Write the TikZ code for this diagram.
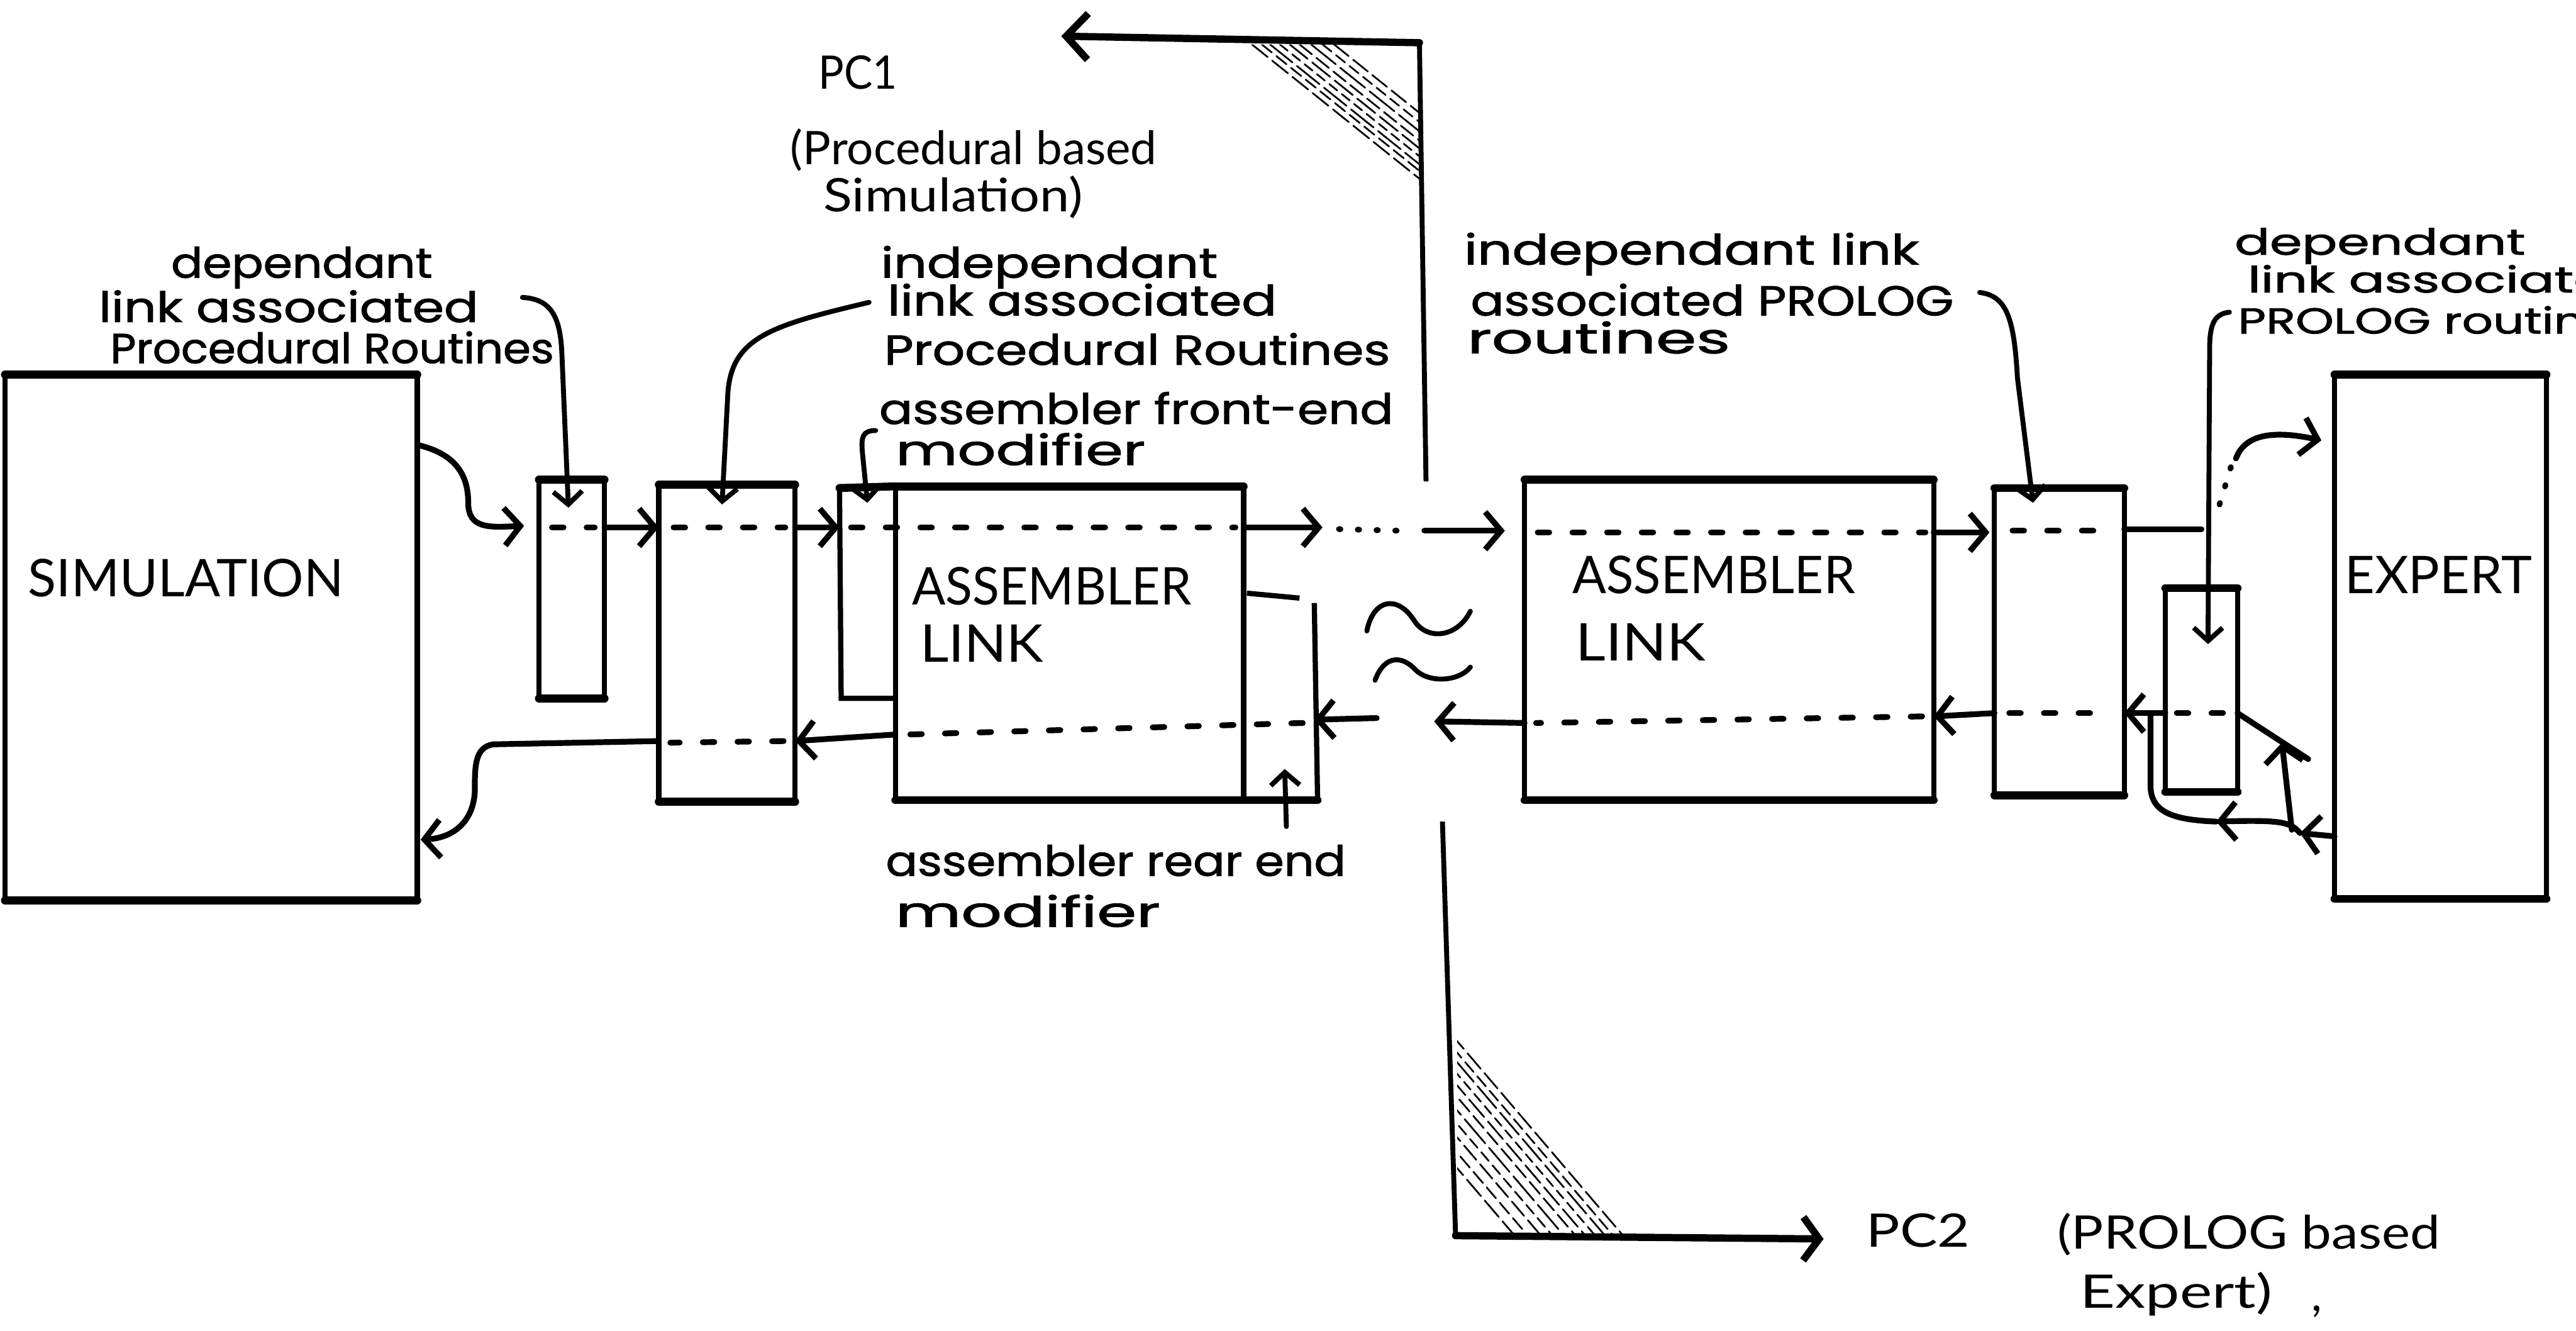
\documentclass[tikz,border=0pt]{standalone}
\usepackage{fontspec}
\usepackage{graphicx}
\setmainfont{Lato}
\newfontfamily\handfont{Poppins}[FakeBold=1.4]
\usetikzlibrary{arrows.meta,calc}
\newlength\hu
\setlength\hu{0.04cm}
\newcommand\fitw[2]{\resizebox{#1\hu}{\height}{#2}}
\newcommand\mkbox[5]{\node[box,minimum width={(#4-#2)*0.04cm},minimum height={(#5-#3)*0.04cm}] (#1) at ({(#2+#4)/2},{(#3+#5)/2}) {};}
\begin{document}
\begin{tikzpicture}[x=0.04cm,y=-0.04cm,
  box/.style={draw,line width=3.6pt,inner sep=0pt,outer sep=0pt},
  edge/.style={line width=5.5pt,line cap=round},
  flow/.style={line width=4pt,line cap=round},
  dflow/.style={line width=4pt,line cap=round,dash pattern=on 8pt off 16pt},
  dots/.style={line width=4pt,line cap=round,dash pattern=on 1pt off 12pt},
  arr/.style={-{Straight Barb[length=11pt,width=26pt]}},
  lead/.style={line width=3.4pt,line cap=round},
  larr/.style={-{Straight Barb[length=9pt,width=20pt]}},
  typed/.style={inner sep=0pt,anchor=base west,font=\fontsize{36}{40}\selectfont},
  typsm/.style={inner sep=0pt,anchor=base west,font=\fontsize{32}{36}\selectfont},
  hw/.style={inner sep=0pt,anchor=base west,font=\handfont\fontsize{29}{34}\selectfont},
  hwsm/.style={inner sep=0pt,anchor=base west,font=\handfont\fontsize{25}{30}\selectfont},
  hatch/.style={line width=1.2pt,line cap=round},
  tilde/.style={line width=3.4pt,line cap=round}
]
\useasboundingbox (0,0) rectangle (1568,810);

% ---------- boxes ----------
\mkbox{sim}{3}{228}{254}{548}
\mkbox{bA}{328}{292}{368}{425}
\mkbox{bB}{401}{295}{484}{488}
\mkbox{alA}{545}{296}{757}{487}
\mkbox{alB}{928}{292}{1177}{487}
\mkbox{bC}{1214}{297}{1293}{484}
\mkbox{bD}{1318}{358}{1362}{482}
\mkbox{exp}{1421}{228}{1550}{547}
\foreach \b in {sim,bA,bB,alA,alB,bC,bD,exp}{
  \draw[edge] (\b.north west) -- (\b.north east);
  \draw[edge] (\b.south west) -- (\b.south east);
}
% front-end modifier
\coordinate (fmTL) at (511,297);
\coordinate (fmBL) at (512,425);
\draw[line width=3.6pt] (fmTL) -- (fmBL) -- (alA.west |- fmBL);
\draw[edge] (fmTL) -- (alA.north west);
% rear-end modifier
\coordinate (rmT) at (800,367);
\coordinate (rmB) at (802,487);
\draw[line width=3.6pt] (759,361) -- (791,364);
\draw[line width=3.6pt] (rmT) -- (rmB);
\draw[edge] (alA.south east) -- (rmB);

% ---------- texts ----------
\node[typed] (tSim) at (17,363) {\fitw{192}{SIMULATION}};
\node[typed] (tAL1a) at (555,368) {\fitw{170}{ASSEMBLER}};
\node[typed] (tAL1b) at (560,403) {\fitw{75}{LINK}};
\node[typed] (tAL2a) at (957,361) {\fitw{172}{ASSEMBLER}};
\node[typed] (tAL2b) at (959,402) {\fitw{79}{LINK}};
\node[typed] (tExp) at (1427,361) {\fitw{114}{EXPERT}};
\node[typsm] (tPC1) at (498,54) {\fitw{48}{PC1}};
\node[typsm] (tPC1a) at (481,100) {\fitw{223}{(Procedural based}};
\node[typsm] (tPC1b) at (501,129) {\fitw{158}{Simulation)}};
\node[typsm] (tPC2) at (1136,759) {\fitw{63}{PC2}};
\node[typsm] (tPC2a) at (1252,760) {\fitw{233}{(PROLOG based}};
\node[typsm] (tPC2b) at (1266,796) {\fitw{117}{Expert)}};
\node[typsm] (tPC2c) at (1407,798) {,};

\node[hw] (h1a) at (104,169) {\fitw{159}{dependant}};
\node[hw] (h1b) at (60,196) {\fitw{231}{link associated}};
\node[hw] (h1c) at (67,221) {\fitw{270}{Procedural Routines}};
\node[hw] (h2a) at (536,169) {\fitw{205}{independant}};
\node[hw] (h2b) at (540,192) {\fitw{237}{link associated}};
\node[hw] (h2c) at (538,222) {\fitw{308}{Procedural Routines}};
\node[hw] (h3a) at (535,258) {\fitw{313}{assembler front-end}};
\node[hw] (h3b) at (545,283) {\fitw{152}{modifier}};
\node[hw] (h4a) at (891,161) {\fitw{277}{independant link}};
\node[hw] (h4b) at (895,192) {\fitw{294}{associated PROLOG}};
\node[hw] (h4c) at (893,215) {\fitw{160}{routines}};
\node[hwsm] (h5a) at (1360,155) {\fitw{177}{dependant}};
\node[hwsm] (h5b) at (1368,178) {\fitw{240}{link associated}};
\node[hwsm] (h5c) at (1362,203) {\fitw{245}{PROLOG routines}};
\node[hw] (h6a) at (539,533) {\fitw{280}{assembler rear end}};
\node[hw] (h6b) at (545,564) {\fitw{161}{modifier}};

% ---------- leaders ----------
\coordinate (lA) at (318,181);
\draw[lead,larr] (lA) .. controls (335,182) and (341,192) .. (342,215) -- ($(bA.north)+(-2,17)$);
\coordinate (lB) at (529,184);
\draw[lead,larr] (lB) .. controls (470,198) and (445,205) .. (443,240) -- ($(bB.north)+(-3,12)$);
\coordinate (lC) at (533,262);
\draw[lead,larr] (lC) .. controls (525,262) and (524,266) .. (525,276) -- ($(fmTL)+(17,9)$);
\coordinate (lD) at (1205,178);
\draw[lead,larr] (lD) .. controls (1222,180) and (1226,195) .. (1228,230) -- ($(bC.north)+(-16,9)$);
\coordinate (lE) at (1357,190);
\draw[lead,larr] (lE) .. controls (1348,191) and (1345,197) .. (1345,212) -- ($(bD.north)+(4,34)$);
\coordinate (lF) at (783,503);
\draw[lead,larr] (lF) -- ($(alA.south east)+(25,-19)$);

% ---------- top flow ----------
\coordinate (yT) at (0,321);
\coordinate (yT2) at (0,324);
\draw[flow,arr] ($(sim.north east)+(1,43)$) .. controls (280,277) and (285,292) .. (285,306) .. controls (285,322) and (298,321) .. ($(bA.west |- yT)+(-9,-1)$);
\draw[dflow] ($(bA.west |- yT)+(8,0)$) -- ($(bA.east |- yT)+(-6,0)$);
\draw[flow,arr] (bA.east |- yT) -- (bB.west |- yT);
\draw[dflow] ($(bB.west |- yT)+(9,0)$) -- ($(bB.east |- yT)+(-6,0)$);
\draw[flow,arr] (bB.east |- yT) -- (fmTL |- yT);
\draw[dflow] ($(fmTL |- yT)+(7,0)$) -- ($(alA.east |- yT)+(-5,0)$);
\coordinate (gapL) at (805,321);
\draw[flow,arr] (alA.east |- yT) -- (gapL);
\draw[dots] (815,322) -- (852,323);
\coordinate (gapR) at (867,323);
\draw[flow,arr] (gapR) -- ($(alB.west |- gapR)+(-12,0)$);
\draw[dflow] ($(alB.west |- yT2)+(8,0)$) -- ($(alB.east |- yT2)+(-5,0)$);
\draw[flow,arr] (alB.east |- yT2) -- ($(bC.west |- yT2)+(-3,0)$);
\draw[dflow] ($(bC.west |- yT2)+(11,-1)$) -- ($(bC.east |- yT2)+(-7,-1)$);
\coordinate (jR) at (1340,322);
\draw[flow] (bC.east |- jR) -- (jR);
\draw[dots] (1351,307) -- (1358,284);
\coordinate (eIn) at ($(exp.north west)+(-8,40)$);
\draw[flow,arr] (1361,279) .. controls (1366,266) and (1380,261) .. (eIn);

% ---------- bottom flow ----------
\coordinate (yB1) at (0,434);
\coordinate (yB2) at (0,436);
\coordinate (yB3) at (0,440);
\coordinate (yB4) at (0,438);
\coordinate (yB5) at (0,447);
\coordinate (yB6) at (0,451);
\coordinate (eOut) at ($(exp.south west)+(0,-38)$);
\draw[flow,arr] (eOut) -- (1400,507);
\draw[flow,arr] (1400,507) .. controls (1394,500) and (1388,499) .. (1349,500);
\draw[flow] (1349,500) .. controls (1322,499) and (1309,494) .. (1309,478) -- (1309,434);
\draw[flow,arr] (1395,505) -- (1389,452);
\draw[flow] (bD.east |- yB1) -- (1405,462);
\draw[dflow] ($(bD.west |- yB1)+(7,0)$) -- ($(bD.east |- yB1)+(-5,0)$);
\draw[flow,arr] (bD.west |- yB1) -- (bC.east |- yB1);
\draw[dflow] ($(bC.west |- yB1)+(9,0)$) -- ($(bC.east |- yB1)+(-7,0)$);
\draw[flow,arr] (bC.west |- yB1) -- (alB.east |- yB2);
\draw[dflow] ($(alB.east |- yB2)+(-7,0)$) -- ($(alB.west |- yB3)+(7,0)$);
\coordinate (gapR2) at (873,439);
\draw[flow,arr] (alB.west |- yB3) -- (gapR2);
\coordinate (gapL2) at (838,437);
\draw[flow,arr] (gapL2) -- (rmT |- yB4);
\draw[dflow] ($(rmT |- yB4)+(-7,2)$) -- ($(alA.west |- yB5)+(8,0)$);
\draw[flow,arr] (alA.west |- yB5) -- (bB.east |- yB6);
\draw[dflow] ($(bB.east |- yB6)+(-7,0)$) -- ($(bB.west |- yB6)+(7,1)$);
\draw[flow,arr] (bB.west |- yB6) -- (300,453) .. controls (289,455) and (289,466) .. (289,482) .. controls (288,500) and (276,510) .. ($(sim.south east)+(2,-37)$);

% ---------- tildes ----------
\draw[tilde] (832,384) .. controls (836,364) and (851,362) .. (861,378) .. controls (869,390) and (887,388) .. (895,372);
\draw[tilde] (837,414) .. controls (842,400) and (852,398) .. (861,407) .. controls (869,416) and (888,415) .. (895,406);

% ---------- PC1 divider ----------
\coordinate (pcA) at (864,26);
\coordinate (pcAend) at (646,22);
\coordinate (pcAbot) at (868,293);
\draw[line width=3.4pt] (pcAbot) -- (pcA);
\draw[line width=5pt,line cap=round,-{Straight Barb[length=15pt,width=32pt]}] (pcA) -- (pcAend);
\begin{scope}
  \clip (758,27) -- (864,27) -- (864,112) -- cycle;
  \foreach \d/\p in {4/14,10/9,15/20,21/7,27/16,33/11,40/22,47/8,54/13}{
    \draw[hatch,dash pattern=on \p pt off 4pt] ({758+\d},27) -- ({864+\d},112);
  }
\end{scope}

% ---------- PC2 divider ----------
\coordinate (pcB) at (886,752);
\coordinate (pcBtop) at (878,500);
\coordinate (pcBend) at (1110,754);
\draw[line width=3.4pt] (pcBtop) -- (pcB);
\draw[line width=5pt,line cap=round,-{Straight Barb[length=11pt,width=30pt]}] (pcB) -- (pcBend);
\begin{scope}
  \clip (887,629) -- (887,752) -- (992,752) -- cycle;
  \foreach \d/\p in {4/14,10/9,15/20,21/7,27/16,33/11,40/22,47/8,54/13,62/10,70/15}{
    \draw[hatch,dash pattern=on \p pt off 4pt] ({887-\d},629) -- ({992-\d},752);
  }
\end{scope}
\end{tikzpicture}
\end{document}
